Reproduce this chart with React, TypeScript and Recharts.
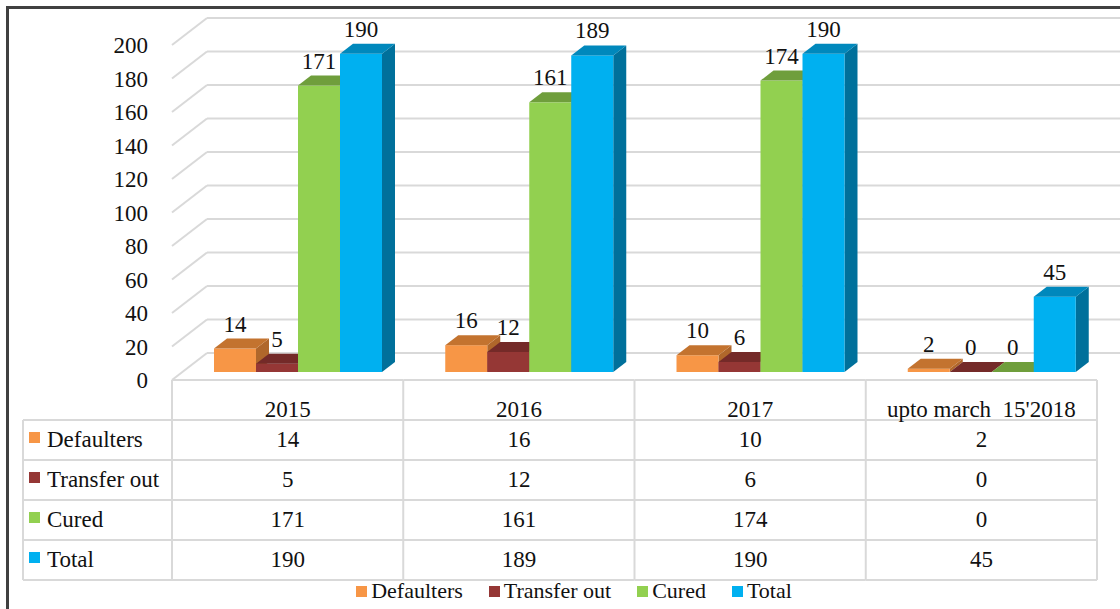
import { Bar, BarChart, CartesianGrid, Customized, LabelList, XAxis, YAxis } from 'recharts'

// values
const categories = ['2015', '2016', '2017', "upto march  15'2018"]
const defaulters = [14, 16, 10, 2]
const transferOut = [5, 12, 6, 0]
const cured = [171, 161, 174, 0]
const total = [190, 189, 190, 45]
const yTicks = [0, 20, 40, 60, 80, 100, 120, 140, 160, 180, 200]

const SERIES = [
  { key: 'defaulters', name: 'Defaulters', values: defaulters, front: '#F79646', top: '#C3732F', side: '#B0672B' },
  { key: 'transferOut', name: 'Transfer out', values: transferOut, front: '#953735', top: '#742A28', side: '#652422' },
  { key: 'cured', name: 'Cured', values: cured, front: '#92D050', top: '#6F9E3C', side: '#618A34' },
  { key: 'total', name: 'Total', values: total, front: '#00B0F0', top: '#0088BC', side: '#00709B' },
]

const rows = categories.map((cat, i) => {
  const row: Record<string, string | number> = { cat }
  SERIES.forEach((s) => {
    row[s.key] = s.values[i]
  })
  return row
})

const W = 1120
const H = 609
const PLOT_LEFT = 172
const PLOT_RIGHT = 1097
const PLOT_TOP = 37
const PLOT_BOTTOM = 372
const BAND = (PLOT_RIGHT - PLOT_LEFT) / categories.length

// fake 3D: floor front edge sits below the bar plane, back wall above it
const FRONT_DY = 8
const BACK_DY = 19
const BACK_X = 207
const BAR_SHIFT = 10
const BAR_DX = 13
const BAR_DY = 10

const TABLE_TOP = 380
const HEADER_H = 40
const ROW_H = 40
const LABEL_LEFT = 23

const FONT = '"Liberation Serif", "Times New Roman", serif'
const FS = 23
const INK = '#111'
const RULE = '#D9D9D9'

const gridLine = (p: any) => {
  const y = p.y1
  return (
    <g key={p.key}>
      <line x1={PLOT_LEFT} y1={y + FRONT_DY} x2={BACK_X} y2={y - BACK_DY} stroke={RULE} strokeWidth={2} />
      <line x1={BACK_X} y1={y - BACK_DY} x2={W} y2={y - BACK_DY} stroke={RULE} strokeWidth={2} />
    </g>
  )
}

function Bar3D(props: any) {
  const { x, y, width, height, s } = props
  const fx = x + BAR_SHIFT
  const h = Math.max(height, 0)
  const topFace = `${fx},${y} ${fx + BAR_DX},${y - BAR_DY} ${fx + width + BAR_DX},${y - BAR_DY} ${fx + width},${y}`
  const sideFace = `${fx + width},${y} ${fx + width + BAR_DX},${y - BAR_DY} ${fx + width + BAR_DX},${y + h - BAR_DY} ${fx + width},${y + h}`
  return (
    <g>
      <polygon points={sideFace} fill={s.side} />
      <rect x={fx} y={y} width={width} height={h} fill={s.front} />
      <polygon points={topFace} fill={s.top} />
    </g>
  )
}

const barLabel = (p: any) => (
  <text
    x={p.x + p.width / 2 + BAR_SHIFT}
    y={p.y - 17}
    textAnchor="middle"
    fontFamily={FONT}
    fontSize={FS}
    fill={INK}
  >
    {p.value}
  </text>
)

const yTick = (p: any) => (
  <text x={148} y={p.y + FRONT_DY + 8} textAnchor="end" fontFamily={FONT} fontSize={FS} fill={INK}>
    {p.payload.value}
  </text>
)

// each x tick draws its own column of the data table
const tableColumn = (p: any) => {
  const { x, index } = p
  const left = x - BAND / 2
  const right = x + BAND / 2
  const bottom = TABLE_TOP + HEADER_H + ROW_H * SERIES.length
  return (
    <g>
      {index === 0 && <line x1={left} y1={TABLE_TOP} x2={left} y2={bottom} stroke={RULE} strokeWidth={2} />}
      <line x1={right} y1={TABLE_TOP} x2={right} y2={bottom} stroke={RULE} strokeWidth={2} />
      <line x1={left} y1={TABLE_TOP} x2={right} y2={TABLE_TOP} stroke={RULE} strokeWidth={2} />
      {SERIES.map((s, r) => (
        <line
          key={s.key}
          x1={left}
          y1={TABLE_TOP + HEADER_H + ROW_H * r}
          x2={right}
          y2={TABLE_TOP + HEADER_H + ROW_H * r}
          stroke={RULE}
          strokeWidth={2}
        />
      ))}
      <line x1={left} y1={bottom} x2={right} y2={bottom} stroke={RULE} strokeWidth={2} />
      <text
        x={x}
        y={TABLE_TOP + HEADER_H - 3}
        textAnchor="middle"
        fontFamily={FONT}
        fontSize={FS}
        fill={INK}
        style={{ whiteSpace: 'pre' }}
      >
        {p.payload.value}
      </text>
      {SERIES.map((s, r) => (
        <text
          key={s.key}
          x={x}
          y={TABLE_TOP + HEADER_H + ROW_H * r + 27}
          textAnchor="middle"
          fontFamily={FONT}
          fontSize={FS}
          fill={INK}
        >
          {s.values[index]}
        </text>
      ))}
    </g>
  )
}

function LabelColumn() {
  const top = TABLE_TOP + HEADER_H
  const bottom = top + ROW_H * SERIES.length
  return (
    <g>
      <line x1={LABEL_LEFT} y1={top} x2={LABEL_LEFT} y2={bottom} stroke={RULE} strokeWidth={2} />
      {SERIES.map((s, r) => (
        <g key={s.key}>
          <line x1={LABEL_LEFT} y1={top + ROW_H * r} x2={PLOT_LEFT} y2={top + ROW_H * r} stroke={RULE} strokeWidth={2} />
          <rect x={29} y={top + ROW_H * r + 12} width={11} height={11} fill={s.front} />
          <text x={47} y={top + ROW_H * r + 27} fontFamily={FONT} fontSize={FS} fill={INK}>
            {s.name}
          </text>
        </g>
      ))}
      <line x1={LABEL_LEFT} y1={bottom} x2={PLOT_LEFT} y2={bottom} stroke={RULE} strokeWidth={2} />
    </g>
  )
}

export default function App() {
  return (
    <div style={{ position: 'absolute', left: 0, top: 0, width: W, height: H, overflow: 'hidden', background: '#fff' }}>
      <div
        style={{
          position: 'absolute',
          left: 6,
          top: 6,
          width: W + 40,
          height: H + 40,
          border: '3px solid #404040',
        }}
      />
      <div style={{ position: 'absolute', left: 0, top: 0 }}>
        <BarChart
          width={W}
          height={H}
          data={rows}
          margin={{ top: PLOT_TOP, right: W - PLOT_RIGHT, bottom: H - PLOT_BOTTOM - 30, left: 0 }}
          barGap={0}
          barSize={42}
        >
          <CartesianGrid vertical={false} horizontal={gridLine} />
          <XAxis dataKey="cat" height={30} interval={0} axisLine={false} tickLine={false} tick={tableColumn} />
          <YAxis
            width={PLOT_LEFT}
            domain={[0, 200]}
            ticks={yTicks}
            interval={0}
            axisLine={false}
            tickLine={false}
            tick={yTick}
          />
          {SERIES.map((s) => (
            <Bar
              key={s.key}
              dataKey={s.key}
              name={s.name}
              fill={s.front}
              isAnimationActive={false}
              shape={(p: any) => <Bar3D {...p} s={s} />}
            >
              <LabelList dataKey={s.key} content={barLabel} />
            </Bar>
          ))}
          <Customized component={LabelColumn} />
        </BarChart>
      </div>
      <div
        style={{
          position: 'absolute',
          left: 14,
          top: 578,
          width: W,
          display: 'flex',
          justifyContent: 'center',
          gap: 26,
          fontFamily: FONT,
          fontSize: 22,
          color: INK,
          lineHeight: '26px',
        }}
      >
        {SERIES.map((s) => (
          <span key={s.key} style={{ display: 'flex', alignItems: 'center' }}>
            <span style={{ width: 11, height: 11, background: s.front, marginRight: 4, display: 'inline-block' }} />
            {s.name}
          </span>
        ))}
      </div>
    </div>
  )
}
